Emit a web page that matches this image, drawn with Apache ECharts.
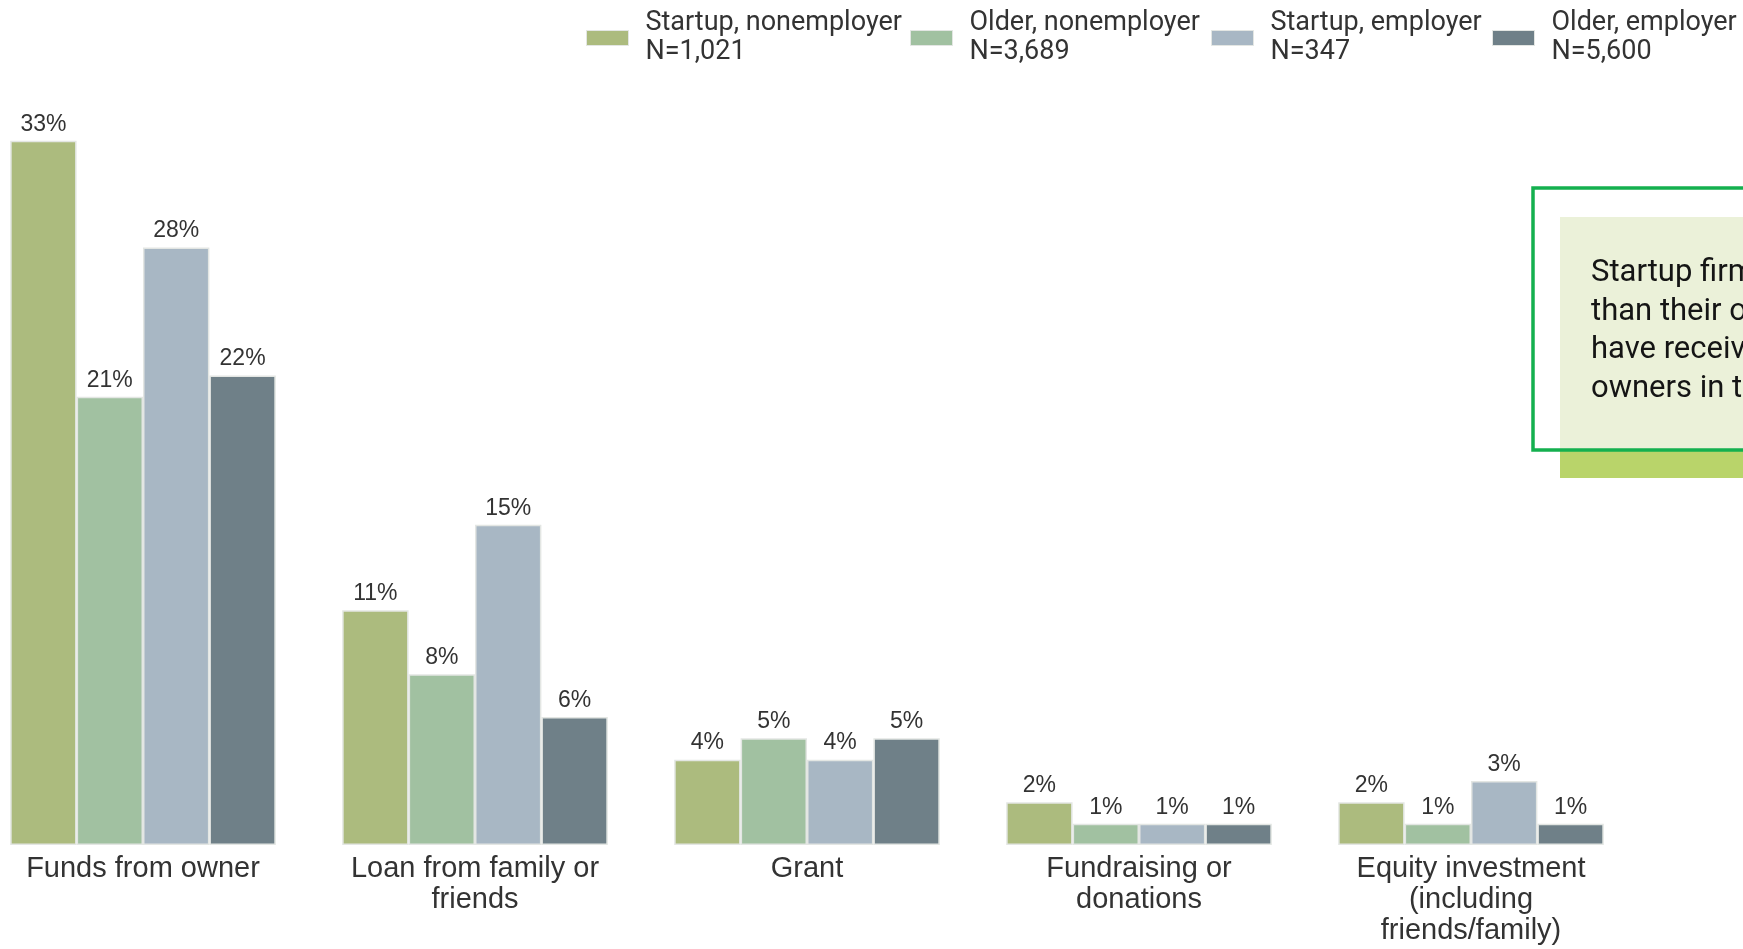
<!DOCTYPE html>
<html>
<head>
<meta charset="utf-8">
<title>Sources of funding by firm age and type</title>
<script src="https://cdn.jsdelivr.net/npm/echarts@6/dist/echarts.min.js"></script>
<style>
  html, body { margin: 0; padding: 0; background: #ffffff; overflow: hidden; }
  body { position: relative; width: 1743px; height: 949px; }
  /* the first category band starts just left of the page edge */
  #chart { position: absolute; left: -23px; top: 0; width: 1766px; height: 949px; }
</style>
</head>
<body>
<div id="chart"></div>
<script>
// Funding sources, share of firms (%)
const categories = [
  'Funds from owner',
  'Loan from family or\nfriends',
  'Grant',
  'Fundraising or\ndonations',
  'Equity investment\n(including\nfriends/family)'
];
const seriesNames = ['Startup, nonemployer', 'Older, nonemployer', 'Startup, employer', 'Older, employer'];
const sampleSizes = ['N=1,021', 'N=3,689', 'N=347', 'N=5,600'];
const startupNonemployer = [33, 11, 4, 2, 2];
const olderNonemployer   = [21, 8, 5, 1, 1];
const startupEmployer    = [28, 15, 4, 1, 3];
const olderEmployer      = [22, 6, 5, 1, 1];
const calloutLines = [
  'Startup firms were more likely',
  'than their older counterparts to',
  'have received funding from their',
  'owners in the past year.'
];

const colors = ['#acbb7e', '#a1c1a1', '#a8b7c4', '#6f8088'];
const values = [startupNonemployer, olderNonemployer, startupEmployer, olderEmployer];

// horizontal offset of the chart canvas relative to the page
const dx = 23;
// left edge of each legend swatch on the page
const legendLefts = [586, 910, 1211, 1492];

const chart = echarts.init(document.getElementById('chart'), null, { renderer: 'canvas' });

const series = seriesNames.map((name, i) => ({
  name: name,
  type: 'bar',
  data: values[i],
  barGap: '0%',
  barCategoryGap: '20%',
  itemStyle: { color: colors[i], borderColor: '#e3e6e3', borderWidth: 1.5 },
  label: {
    show: true,
    position: 'top',
    distance: 5,
    formatter: p => p.value + '%',
    fontFamily: 'Liberation Sans',
    fontSize: 23,
    color: '#333333'
  },
  emphasis: { disabled: true }
}));

const legends = seriesNames.map((name, i) => ({
  left: legendLefts[i] + dx - 5,
  top: 4,
  itemWidth: 42,
  itemHeight: 15,
  icon: 'rect',
  itemStyle: { borderColor: '#e3e6e3', borderWidth: 1 },
  data: [name],
  formatter: n => n + '\n' + sampleSizes[i],
  textStyle: {
    fontFamily: 'Roboto',
    fontSize: 27,
    lineHeight: 29,
    color: '#333333',
    padding: [0, 0, 0, 12]
  },
  selectedMode: false
}));

chart.setOption({
  animation: false,
  backgroundColor: '#ffffff',
  color: colors,
  legend: legends,
  grid: { left: 0, width: 1660, top: 98, bottom: 104, containLabel: false },
  xAxis: {
    type: 'category',
    data: categories,
    boundaryGap: true,
    axisLine: { show: false },
    axisTick: { show: false },
    axisLabel: {
      interval: 0,
      margin: 8,
      fontFamily: 'Liberation Sans',
      fontSize: 29,
      lineHeight: 31,
      color: '#333333'
    }
  },
  yAxis: {
    type: 'value',
    min: 0,
    max: 35,
    show: false,
    splitLine: { show: false }
  },
  series: series,
  graphic: [
    {
      type: 'rect',
      z: 10,
      shape: { x: 1560 + dx, y: 217, width: 240, height: 234 },
      style: { fill: '#ebf1d9' }
    },
    {
      type: 'rect',
      z: 10,
      shape: { x: 1560 + dx, y: 451, width: 240, height: 27 },
      style: { fill: '#b9d46a' }
    },
    {
      type: 'rect',
      z: 11,
      shape: { x: 1533 + dx, y: 188, width: 260, height: 262 },
      style: { fill: 'none', stroke: '#14b04f', lineWidth: 3.5 }
    },
    {
      type: 'text',
      z: 12,
      left: 1591 + dx,
      top: 254,
      style: {
        text: calloutLines.join('\n'),
        fontFamily: 'Roboto',
        fontSize: 31,
        lineHeight: 38.5,
        fill: '#151515'
      }
    }
  ]
});
</script>
</body>
</html>
